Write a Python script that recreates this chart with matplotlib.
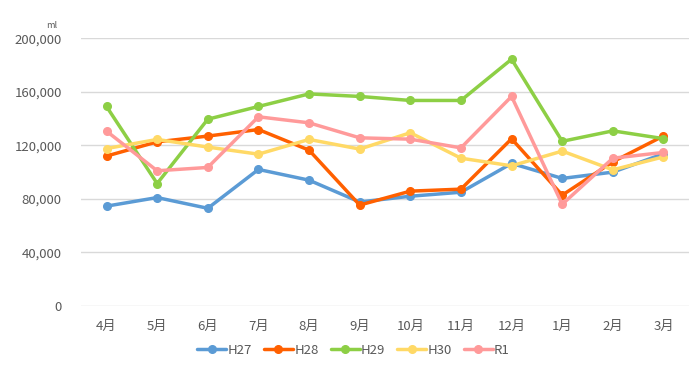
import matplotlib
matplotlib.use("Agg")
import matplotlib.pyplot as plt
from matplotlib.ticker import FuncFormatter

plt.rcParams['font.family'] = ['Noto Sans CJK JP', 'DejaVu Sans']

months = ['4月', '5月', '6月', '7月', '8月', '9月', '10月', '11月', '12月', '1月', '2月', '3月']

h27 = [74600, 81000, 73000, 102000, 94000, 77700, 82000, 85000, 106500, 95300, 100000, 113700]
h28 = [112000, 122600, 126900, 131800, 116400, 75400, 85800, 87300, 124900, 82800, 107700, 127000]
h29 = [149000, 91500, 139500, 149000, 158400, 156500, 153500, 153500, 184300, 123000, 130800, 125000]
h30 = [117600, 124400, 118700, 113400, 124400, 117200, 129400, 110400, 104700, 115700, 101700, 111400]
r1 = [130600, 101000, 103500, 141300, 136800, 125600, 124600, 118100, 156500, 76000, 110400, 114700]

series = [('H27', h27, '#5B9BD5'), ('H28', h28, '#FF6000'), ('H29', h29, '#8DCF45'),
          ('H30', h30, '#FFD966'), ('R1', r1, '#FF9A9A')]

fig = plt.figure(figsize=(7, 3.67), dpi=100)
ax = fig.add_axes([0.116, 0.166, 0.868, 0.730])

x = list(range(len(months)))
for name, vals, col in series:
    ax.plot(x, vals, color=col, lw=2.5, marker='o', ms=5.5, label=name, solid_capstyle='round')

ax.set_ylim(0, 200000)
ax.set_yticks(range(0, 200001, 40000))
ax.yaxis.set_major_formatter(FuncFormatter(lambda v, p: f'{int(v):,}'))
ax.set_xlim(-0.5, len(months) - 0.5)
ax.set_xticks(x)
ax.set_xticklabels(months)
ax.grid(axis='y', color='#D9D9D9', lw=1)
ax.set_axisbelow(True)
for s in ax.spines.values():
    s.set_visible(False)
ax.tick_params(length=0, colors='#595959', labelsize=9.5)
ax.tick_params(axis='x', pad=10)
ax.tick_params(axis='y', pad=14)

fig.text(0.066, 0.925, 'ml', fontsize=6.5, color='#595959')

fig.legend(loc='center', bbox_to_anchor=(0.505, 0.045), ncol=5, frameon=False,
           fontsize=9.5, handlelength=2.2, columnspacing=0.9, handletextpad=0.1,
           labelcolor='#595959')

fig.savefig('out.png', dpi=100)
